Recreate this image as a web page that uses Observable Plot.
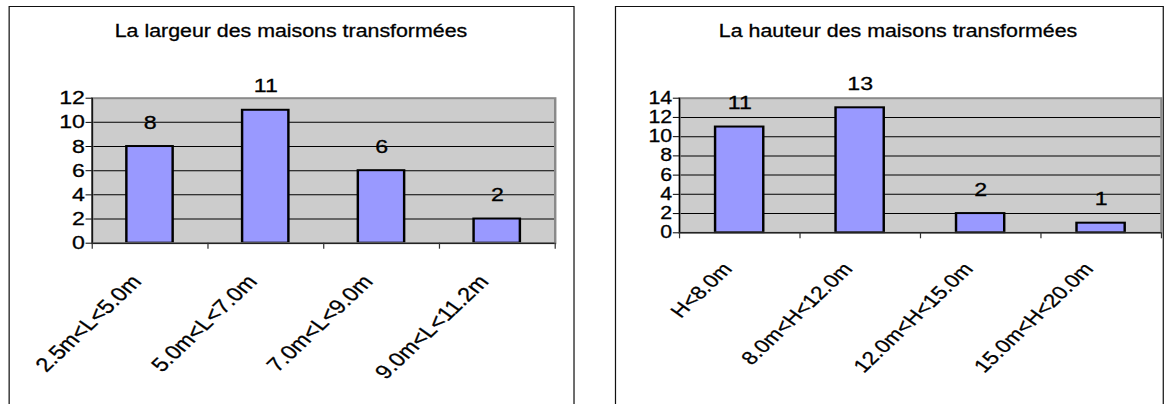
<!DOCTYPE html>
<html><head><meta charset="utf-8">
<script src="https://cdn.jsdelivr.net/npm/d3@7"></script>
<script src="https://cdn.jsdelivr.net/npm/@observablehq/plot@0.6"></script>
<style>
html,body{margin:0;padding:0;background:#fff;overflow:hidden;}
#stage{position:relative;width:964px;height:404px;transform:scaleX(1.22);transform-origin:0 0;font-family:"Liberation Sans",Arial,sans-serif;}
.box{position:absolute;border:1.5px solid #111;box-sizing:border-box;}
.title{position:absolute;font-size:17.5px;white-space:nowrap;transform:translateX(-50%);line-height:1;color:#000;-webkit-text-stroke:0.3px #000;}
.chart{position:absolute;top:0;}
.chart svg text{stroke:#000;stroke-width:0.3px;}
</style></head><body><div id="stage"></div>
<script>
// ---- data ----
const widthTitle = "La largeur des maisons transformées";
const widthCategories = ["2.5m<L<5.0m", "5.0m<L<7.0m", "7.0m<L<9.0m", "9.0m<L<11.2m"];
const widthCounts = [8, 11, 6, 2];
const widthTicks = [0, 2, 4, 6, 8, 10, 12];

const heightTitle = "La hauteur des maisons transformées";
const heightCategories = ["H<8.0m", "8.0m<H<12.0m", "12.0m<H<15.0m", "15.0m<H<20.0m"];
const heightCounts = [11, 13, 2, 1];
const heightTicks = [0, 2, 4, 6, 8, 10, 12, 14];

// ---- drawing ----
const stage = document.getElementById("stage");

function chart(cats, vals, ticks, cfg) {
  const data = cats.map((c, i) => ({c, v: vals[i], i}));
  const ymax = ticks[ticks.length - 1];
  return Plot.plot({
    width: cfg.width, height: 404,
    marginLeft: cfg.ml, marginRight: cfg.mr, marginTop: cfg.mt, marginBottom: cfg.mb,
    style: {fontFamily: '"Liberation Sans", Arial, sans-serif', fontSize: cfg.tickFont + "px", color: "#000", background: "transparent", overflow: "visible"},
    x: {domain: [0, cats.length], axis: null},
    y: {domain: [0, ymax], axis: null},
    marks: [
      Plot.frame({fill: "#cccccc", stroke: null}),
      Plot.ruleY(ticks.slice(1, -1), {stroke: "#000", strokeWidth: 1}),
      Plot.rect(data, {x1: d => d.i + 0.3, x2: d => d.i + 0.7, y1: 0, y2: "v", fill: "#9999ff", stroke: "#000", strokeWidth: 2}),
      Plot.frame({stroke: "#8a8a8a", strokeWidth: 2}),
      Plot.ruleX([0], {stroke: "#000", strokeWidth: 1}),
      Plot.ruleY([0], {stroke: "#000", strokeWidth: 1}),
      Plot.axisY({ticks, label: null, tickSize: 5, tickPadding: 1, fontSize: cfg.tickFont, tickFormat: d => String(d)}),
      Plot.axisX({ticks: d3.range(cats.length + 1), label: null, tickSize: 6, tickFormat: () => "", stroke: "#333"}),
      Plot.text(data, {x: d => d.i + 0.5, y: "v", text: d => String(d.v), dy: -24, fontSize: cfg.valueFont}),
      Plot.text(data, {x: d => d.i + 0.5, y: 0, text: "c", rotate: -49, textAnchor: "end", dx: cfg.ldx, dy: cfg.ldy, fontSize: cfg.labelFont})
    ]
  });
}

function addBox(left, width) {
  const b = document.createElement("div");
  b.className = "box";
  Object.assign(b.style, {left: left + "px", top: "5.5px", width: width + "px", height: "430px"});
  stage.appendChild(b);
}
function addTitle(text, cx) {
  const t = document.createElement("div");
  t.className = "title";
  t.textContent = text;
  Object.assign(t.style, {left: cx + "px", top: "23px"});
  stage.appendChild(t);
}
function addChart(svg, left) {
  const w = document.createElement("div");
  w.className = "chart";
  w.style.left = left + "px";
  w.appendChild(svg);
  stage.appendChild(w);
}

addBox(6.5, 464.8);
addBox(504.1, 450);
addTitle(widthTitle, 238.5);
addTitle(heightTitle, 736.1);

addChart(chart(widthCategories, widthCounts, widthTicks,
  {width: 464.8, ml: 68.1, mr: 17.2, mt: 97.7, mb: 161.3, tickFont: 19, valueFont: 19, labelFont: 19.5, ldx: -11, ldy: 35}), 6.5);
addChart(chart(heightCategories, heightCounts, heightTicks,
  {width: 450, ml: 52.5, mr: 2.5, mt: 97.7, mb: 171.7, tickFont: 17.5, valueFont: 19, labelFont: 18.5, ldx: -10, ldy: 33}), 504.1);
</script></body></html>
